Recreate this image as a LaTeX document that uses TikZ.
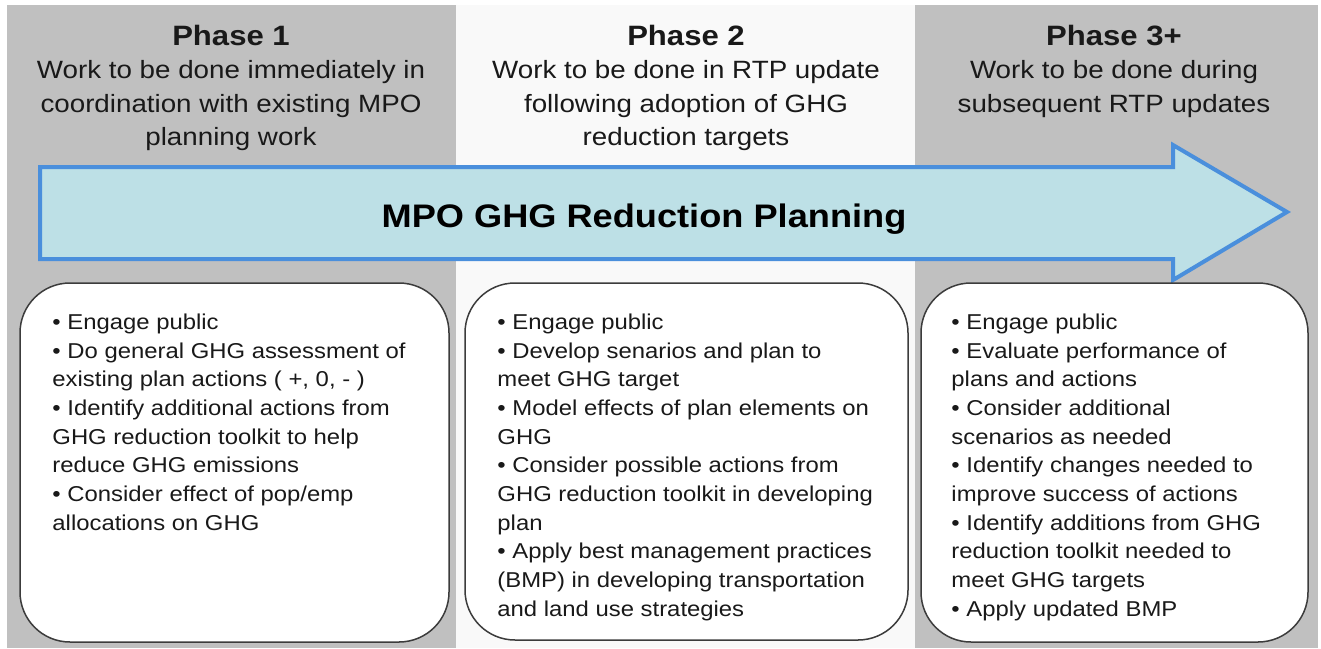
\documentclass[tikz,border=0pt]{standalone}
\usepackage{fontspec}
\setmainfont{Liberation Sans}[FakeStretch=1.11]
\usetikzlibrary{positioning}

\definecolor{colgray}{HTML}{C0C0C0}
\definecolor{midgray}{HTML}{F9F9F9}
\definecolor{bannerfill}{HTML}{BDE0E6}
\definecolor{bannerline}{HTML}{4A8FDC}
\definecolor{cardline}{HTML}{3C3C3C}

\begin{document}
\begin{tikzpicture}[
  x=1pt,
  y=-1pt,
  column/.style={fill=colgray, draw=none},
  phase/.style={
    inner sep=0pt,
    text=black!90,
    font=\bfseries\fontsize{28}{33}\selectfont
  },
  subtitle/.style={
    inner sep=0pt,
    align=center,
    text=black!90,
    font=\fontsize{25}{33.5}\selectfont
  },
  banner/.style={fill=bannerfill, draw=bannerline, line width=4pt},
  title/.style={
    inner sep=0pt,
    font=\bfseries\fontsize{32.6}{38}\selectfont
  },
  card/.style={
    rectangle,
    draw=cardline,
    fill=white,
    line width=1.5pt,
    rounded corners=50pt,
    minimum height=359pt
  },
  items/.style={
    inner sep=0pt,
    align=left,
    text=black!90,
    font=\fontsize{21.5}{28.7}\selectfont
  }
]

\useasboundingbox (0,0) rectangle (1321,648);

% three phase columns
\fill[column] (7,5) rectangle (456,648);
\fill[midgray] (456,5) rectangle (915,648);
\fill[column] (915,5) rectangle (1318,648);

% headings
\node[phase, anchor=base] (phase1) at (231,45) {Phase 1};
\node[subtitle, below=14.8pt of phase1] (sub1)
{Work to be done immediately in\\coordination with existing MPO\\planning work};

\node[phase, anchor=base] (phase2) at (686,45) {Phase 2};
\node[subtitle, below=14.8pt of phase2] (sub2)
{Work to be done in RTP update\\following adoption of GHG\\reduction targets};

\node[phase, anchor=base] (phase3) at (1114,45) {Phase 3+};
\node[subtitle, below=14.8pt of phase3] (sub3)
{Work to be done during\\subsequent RTP updates};

% big arrow across the phases
\draw[banner] (40,167) -- (1173,167) -- (1173,145) -- (1287,212)
  -- (1173,280) -- (1173,259) -- (40,259) -- cycle;
\node[title, anchor=base] (banner) at (644,227) {MPO GHG Reduction Planning};

% task lists
\node[card, minimum width=429pt] (card1) at (234.5,462.5) {};
\node[card, minimum width=443pt, minimum height=357pt] (card2) at (686.5,461.5) {};
\node[card, minimum width=387pt] (card3) at (1114.5,462.5) {};

\node[items, below right=31.3pt and 33pt of card1.north west] (list1)
{• Engage public\\
• Do general GHG assessment of\\
existing plan actions ( +, 0, - )\\
• Identify additional actions from\\
GHG reduction toolkit to help\\
reduce GHG emissions\\
• Consider effect of pop/emp\\
allocations on GHG};

\node[items, below right=31.3pt and 33pt of card2.north west] (list2)
{• Engage public\\
• Develop senarios and plan to\\
meet GHG target\\
• Model effects of plan elements on\\
GHG\\
• Consider possible actions from\\
GHG reduction toolkit in developing\\
plan\\
• Apply best management practices\\
(BMP) in developing transportation\\
and land use strategies};

\node[items, below right=31.3pt and 31pt of card3.north west] (list3)
{• Engage public\\
• Evaluate performance of\\
plans and actions\\
• Consider additional\\
scenarios as needed\\
• Identify changes needed to\\
improve success of actions\\
• Identify additions from GHG\\
reduction toolkit needed to\\
meet GHG targets\\
• Apply updated BMP};

\end{tikzpicture}
\end{document}
